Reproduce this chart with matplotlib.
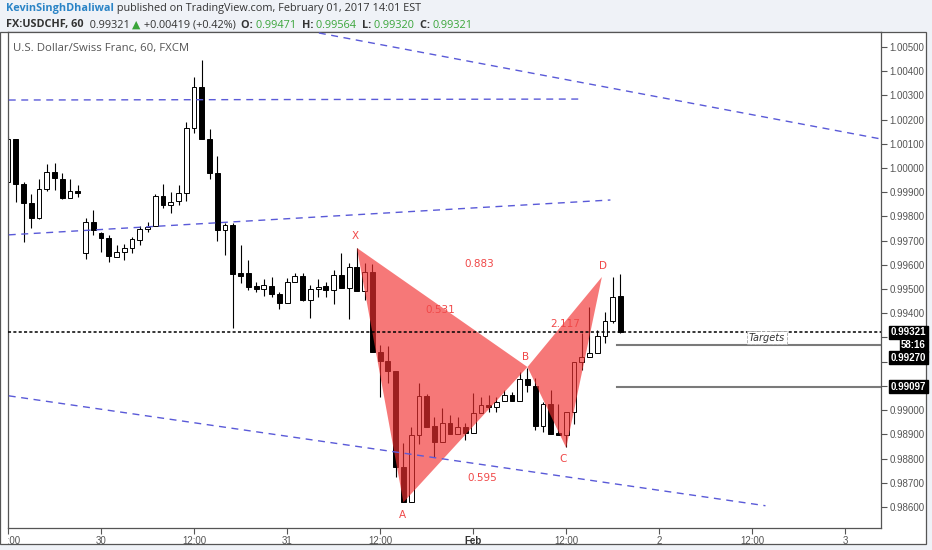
import numpy as np
import matplotlib.pyplot as plt
from matplotlib.patches import Polygon, Rectangle
from matplotlib.transforms import blended_transform_factory, Bbox

W, H = 932, 550

# hourly candles, bar 0 = Fri Jan 27 12:00 UTC, bar 10 = Sunday open
opens = [0.99942, 1.00120, 0.99934, 0.99856, 0.99794, 0.99914, 0.99984, 0.99955, 0.99876, 0.99905,
         0.99649, 0.99777, 0.99732, 0.99711, 0.99633, 0.99653, 0.99670, 0.99703, 0.99748, 0.99761,
         0.99885, 0.99847, 0.99864, 0.99897, 1.00165, 1.00335, 1.00120, 0.99980, 0.99744, 0.99765,
         0.99567, 0.99567, 0.99513, 0.99500, 0.99513, 0.99480, 0.99443, 0.99529, 0.99554, 0.99455,
         0.99500, 0.99513, 0.99496, 0.99558, 0.99505, 0.99591, 0.99492, 0.99571, 0.99240, 0.99203,
         0.99162, 0.98765, 0.98621, 0.98897, 0.99059, 0.98935, 0.98869, 0.98947, 0.98902, 0.98931,
         0.98906, 0.98988, 0.99021, 0.99013, 0.99038, 0.99063, 0.99038, 0.99129, 0.99100, 0.98935,
         0.99026, 0.98906, 0.98897, 0.98993, 0.99199, 0.99220, 0.99236, 0.99306, 0.99368, 0.99471]
highs = [1.00132, 1.00120, 0.99942, 0.99893, 0.99955, 1.00017, 1.00021, 0.99980, 0.99955, 0.99930,
         0.99794, 0.99827, 0.99736, 0.99724, 0.99682, 0.99686, 0.99715, 0.99761, 0.99777, 0.99893,
         0.99934, 0.99901, 0.99930, 1.00190, 1.00376, 1.00446, 1.00161, 1.00050, 0.99773, 0.99773,
         0.99682, 0.99620, 0.99529, 0.99542, 0.99550, 0.99488, 0.99546, 0.99567, 0.99567, 0.99517,
         0.99542, 0.99529, 0.99579, 0.99649, 0.99608, 0.99670, 0.99608, 0.99604, 0.99269, 0.99265,
         0.99162, 0.98864, 0.98931, 0.99112, 0.99067, 0.98972, 0.99009, 0.98980, 0.98972, 0.98947,
         0.99071, 0.99054, 0.99063, 0.99054, 0.99083, 0.99075, 0.99158, 0.99174, 0.99133, 0.99034,
         0.99083, 0.99026, 0.98993, 0.99199, 0.99319, 0.99426, 0.99331, 0.99406, 0.99550, 0.99564]
lows = [0.99942, 0.99860, 0.99695, 0.99752, 0.99790, 0.99905, 0.99909, 0.99872, 0.99876, 0.99881,
        0.99624, 0.99724, 0.99653, 0.99612, 0.99633, 0.99620, 0.99649, 0.99682, 0.99736, 0.99761,
        0.99835, 0.99814, 0.99847, 0.99864, 1.00145, 1.00120, 0.99955, 0.99699, 0.99641, 0.99339,
        0.99525, 0.99496, 0.99488, 0.99472, 0.99467, 0.99418, 0.99443, 0.99529, 0.99451, 0.99381,
        0.99467, 0.99467, 0.99439, 0.99505, 0.99377, 0.99492, 0.99455, 0.99240, 0.99054, 0.99112,
        0.98724, 0.98621, 0.98621, 0.98860, 0.98931, 0.98807, 0.98869, 0.98902, 0.98902, 0.98877,
        0.98906, 0.98988, 0.98993, 0.98993, 0.99038, 0.99038, 0.99038, 0.99075, 0.98918, 0.98910,
        0.98902, 0.98897, 0.98848, 0.98943, 0.99166, 0.99220, 0.99236, 0.99278, 0.99360, 0.99320]
closes = [1.00120, 0.99934, 0.99856, 0.99794, 0.99914, 0.99984, 0.99959, 0.99876, 0.99905, 0.99897,
          0.99777, 0.99744, 0.99711, 0.99637, 0.99653, 0.99670, 0.99707, 0.99748, 0.99757, 0.99885,
          0.99847, 0.99860, 0.99897, 1.00165, 1.00335, 1.00120, 0.99980, 0.99744, 0.99765, 0.99562,
          0.99554, 0.99509, 0.99500, 0.99517, 0.99480, 0.99443, 0.99529, 0.99554, 0.99455, 0.99500,
          0.99509, 0.99496, 0.99558, 0.99505, 0.99591, 0.99492, 0.99571, 0.99240, 0.99203, 0.99162,
          0.98765, 0.98621, 0.98897, 0.99059, 0.98931, 0.98869, 0.98947, 0.98902, 0.98931, 0.98906,
          0.98988, 0.99021, 0.99013, 0.99034, 0.99063, 0.99038, 0.99129, 0.99104, 0.98935, 0.99026,
          0.98902, 0.98897, 0.98993, 0.99199, 0.99220, 0.99236, 0.99306, 0.99368, 0.99467, 0.99321]

# bat pattern X A B C D
pat_names = ["X", "A", "B", "C", "D"]
pat_x = [45, 51, 67, 72, 76.6]
pat_y = [0.99670, 0.98619, 0.99178, 0.98844, 0.99550]
name_x = [44.8, 50.9, 66.8, 71.6, 76.7]
name_y = [0.99719, 0.98567, 0.99220, 0.98798, 0.99595]

ratio_txt = ["0.883", "0.531", "2.117", "0.595"]
ratio_x = [60.8, 55.8, 71.9, 61.2]
ratio_y = [0.99604, 0.99414, 0.99356, 0.98720]

# dashed trend lines (x0, y0, x1, y1)
trend_lines = [
    (40.1, 1.00558, 112.6, 1.00120),
    (0.1, 1.00281, 73.8, 1.00285),
    (0.1, 0.99724, 77.7, 0.99868),
    (0.1, 0.99059, 97.7, 0.98605),
]

last_price = 0.99321
targets = [0.99270, 0.99097]
target_start = 78.6

xtick_pos = [0, 12, 24, 36, 48, 60, 72, 84, 96, 108]
xtick_lbl = ["12:00", "30", "12:00", "31", "12:00", "Feb", "12:00", "2", "12:00", "3"]
yticks = np.arange(0.986, 1.0055, 0.001)
hidden_ticks = [0.991, 0.992, 0.993]  # covered by the price tags

fig = plt.figure(figsize=(W / 100, H / 100), dpi=100, facecolor="#eff2f7")

# white chart panel with frame, behind the axes
panel = Rectangle((0, 6 / H), 926 / W, 512 / H, transform=fig.transFigure,
                  facecolor="white", edgecolor="#555555", lw=0.9, zorder=-5)
fig.patches.append(panel)

ax = fig.add_axes([8 / W, 22 / H, 873 / W, 496 / H])
ax.set_zorder(1)
ax.set_facecolor("white")
ax.set_xlim(0.13, 112.6)
ax.set_ylim(0.98513, 1.00562)

idx = np.arange(len(opens))
o = np.array(opens)
c = np.array(closes)
up = c >= o
bottoms = np.minimum(o, c)
heights = np.maximum(np.abs(c - o), 0.00003)

ax.vlines(idx, lows, highs, color="black", lw=0.8, zorder=2)
ax.bar(idx, heights, bottom=bottoms, width=0.62,
       color=np.where(up, "white", "black"), edgecolor="black", linewidth=0.7, zorder=2.1)

# pattern triangles
for tri in ([0, 1, 2], [2, 3, 4]):
    pts = [(pat_x[k], pat_y[k]) for k in tri]
    ax.add_patch(Polygon(pts, closed=True, facecolor="#f23030", edgecolor="none", alpha=0.65, zorder=3))

for n, x, y in zip(pat_names, name_x, name_y):
    ax.text(x, y, n, color="#f04848", fontsize=7.5, ha="center", va="center", zorder=5)
for t, x, y in zip(ratio_txt, ratio_x, ratio_y):
    ax.text(x, y, t, color="#f04848", fontsize=7.5, ha="center", va="center", zorder=5)

for x0, y0, x1, y1 in trend_lines:
    ax.plot([x0, x1], [y0, y1], color="#5a5ad8", lw=1, dashes=(5, 4), zorder=4)

ax.axhline(last_price, color="black", lw=1.1, dashes=(2, 1.5), zorder=4)
for t in targets:
    ax.plot([target_start, 120], [t, t], color="#7a7a7a", lw=1.5, zorder=4)
ax.text(97.9, 0.99299, "Targets", fontsize=7, style="italic", color="#333333", ha="center", va="center",
        zorder=5, bbox=dict(facecolor="white", edgecolor="#aaaaaa", linestyle="--", lw=0.6, pad=1.2))

# axes style
ax.yaxis.tick_right()
ax.set_yticks(yticks)
ax.set_yticklabels(["" if any(abs(v - h) < 1e-6 for h in hidden_ticks) else f"{v:.5f}" for v in yticks])
ax.set_xticks(xtick_pos)
ax.set_xticklabels(xtick_lbl)
ax.tick_params(axis="both", colors="#555555", labelcolor="#555555", labelsize=7, length=4, width=0.8)
ax.tick_params(axis="y", pad=2)
ax.tick_params(axis="x", pad=1.5)
clip = Bbox([[8, 0], [926, 40]])
for lbl in ax.get_xticklabels():
    lbl.set_fontfamily("Liberation Sans")
    lbl.set_clip_on(True)
    lbl.set_clip_box(clip)
    if lbl.get_text() == "Feb":
        lbl.set_fontweight("bold")
        lbl.set_color("#333333")
for lbl in ax.get_yticklabels():
    lbl.set_fontfamily("Liberation Sans")
for s in ax.spines.values():
    s.set_color("#555555")
    s.set_linewidth(0.9)

# price tags on right axis
blend = blended_transform_factory(ax.transAxes, ax.transData)
tags = [("0.99321", last_price, 0), ("58:16", last_price, -13), ("0.99270", targets[0], -13),
        ("0.99097", targets[1], 0)]
for txt, yv, dy in tags:
    ax.annotate(txt, xy=(1.0515, yv), xycoords=blend, xytext=(0, dy), textcoords="offset pixels",
                ha="right", va="center", color="white", fontsize=7, fontweight="bold",
                family="Liberation Sans", annotation_clip=False, zorder=6,
                bbox=dict(facecolor="black", edgecolor="black", pad=1.1))

# header
fig.canvas.draw()
rend = fig.canvas.get_renderer()


def write_line(x_px, y_px, pieces, size=7.8):
    x = x_px
    for txt, col, wt in pieces:
        t = fig.text(x / W, 1 - y_px / H, txt, color=col, fontweight=wt, fontsize=size,
                     family=["Open Sans", "DejaVu Sans"], va="center", ha="left")
        x += t.get_window_extent(rend).width


green = "#3aa53a"
dark = "#333333"
write_line(6, 9, [("KevinSinghDhaliwal", "#2b84c6", "bold"),
                  (" published on TradingView.com, February 01, 2017 14:01 EST", dark, "normal")])
write_line(6, 25, [("FX:USDCHF, 60", dark, "bold"), ("  0.99321 ", dark, "normal"),
                   ("▲", green, "normal"), (" +0.00419 (+0.42%)  ", dark, "normal"),
                   ("O: ", dark, "bold"), ("0.99471  ", green, "normal"),
                   ("H: ", dark, "bold"), ("0.99564  ", green, "normal"),
                   ("L: ", dark, "bold"), ("0.99320  ", green, "normal"),
                   ("C: ", dark, "bold"), ("0.99321", green, "normal")])

fig.text(13 / W, 1 - 48 / H, "U.S. Dollar/Swiss Franc, 60, FXCM", fontsize=8.2, color="#555555",
         family="Open Sans", va="center")

fig.savefig("out.png", dpi=100, facecolor=fig.get_facecolor())
